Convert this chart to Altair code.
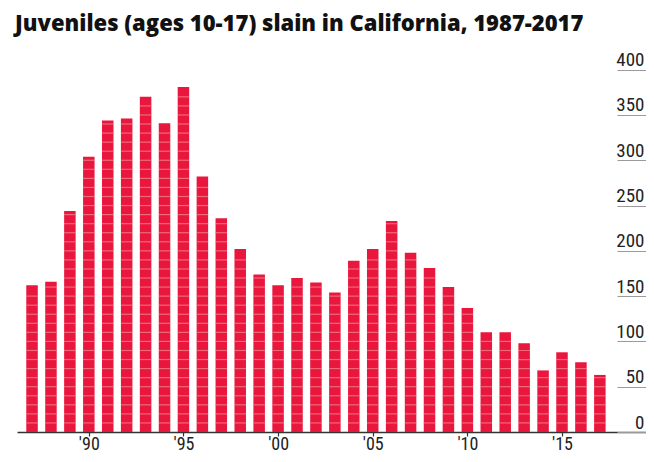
import altair as alt
import pandas as pd

years = list(range(1987, 2018))
victims = [162, 166, 244, 304, 344, 346, 370, 341, 381, 282, 236, 202, 174, 162, 170,
           165, 154, 189, 202, 233, 198, 181, 160, 137, 110, 110, 98, 68, 88, 77, 63]
y_ticks = [0, 50, 100, 150, 200, 250, 300, 350, 400]
x_ticks = [1990, 1995, 2000, 2005, 2010, 2015]
title_text = "Juveniles (ages 10-17) slain in California, 1987-2017"

df = pd.DataFrame({"year": years, "victims": victims})

# decorative stripes every 10 units inside each bar
stripe_rows = []
for yr, v in zip(years, victims):
    lvl = 10
    while lvl < v - 2:
        stripe_rows.append({"year": yr, "level": lvl})
        lvl += 10
stripes = pd.DataFrame(stripe_rows)

NARROW = "Liberation Sans Narrow, Roboto Condensed, DejaVu Sans Condensed, Roboto, sans-serif"

x_scale = alt.Scale(domain=[1986.47, 2019.174], nice=False, zero=False)
y_scale = alt.Scale(domain=[0, 438.3], nice=False)

x_axis = alt.Axis(
    values=x_ticks, title=None, grid=False,
    labelExpr="\"'\" + substring(toString(datum.value), 2, 4)",
    tickSize=4, tickColor="#333333", tickWidth=1.2,
    domainColor="#333333", domainWidth=1.5,
    labelFont=NARROW, labelFontSize=18, labelColor="#222222",
    labelBaseline="alphabetic", labelPadding=13, labelFlush=False,
)
y_axis = alt.Axis(
    values=y_ticks, title=None, grid=False, orient="right",
    offset=-29, tickSize=29, tickColor="#9a9a9a", tickWidth=1,
    domain=False, labelAlign="right", labelPadding=-2,
    labelBaseline="alphabetic", labelOffset=-4,
    labelFont=NARROW, labelFontSize=19, labelColor="#222222",
    labelOverlap=False,
)

bars = alt.Chart(df).mark_bar(size=11.5, color="#e9173d").encode(
    x=alt.X("year:Q", scale=x_scale, axis=x_axis),
    y=alt.Y("victims:Q", scale=y_scale, axis=y_axis),
)

lines = alt.Chart(stripes).mark_tick(
    orient="horizontal", size=11.5, thickness=1.2, color="#f48a96"
).encode(
    x=alt.X("year:Q", scale=x_scale),
    y=alt.Y("level:Q", scale=y_scale),
)

chart = alt.layer(bars, lines).properties(
    width=629, height=397,
    autosize=alt.AutoSizeParams(type="none"),
    padding={"left": 9, "top": 27, "right": 0, "bottom": 22},
    background="white",
    title=alt.TitleParams(
        text=title_text, anchor="start", frame="group",
        font="Open Sans", fontWeight=800, fontSize=22, color="#111111",
        offset=2, dx=-2, dy=3,
    ),
).configure_view(stroke=None)

chart.save("out.html", embed_options={"renderer": "svg", "actions": False})
